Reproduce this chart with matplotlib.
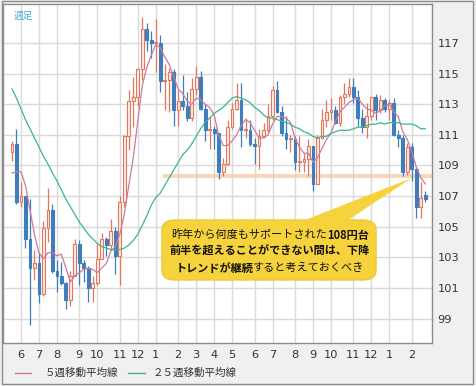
import matplotlib
matplotlib.use("Agg")
import matplotlib.pyplot as plt
from matplotlib.patches import FancyBboxPatch, Polygon, Rectangle
import numpy as np
import pandas as pd

plt.rcParams['font.family'] = ['Noto Sans CJK JP', 'DejaVu Sans']

# ---------------- data (weekly USD/JPY) ----------------
week_start = "2016-05-23"
opens  = [109.9,110.4,106.6,107.0,104.2,102.3,102.6,100.6,104.9,106.1,102.1,101.8,101.3,100.2,101.8,103.9,102.6,102.3,101.0,101.3,
          102.9,104.2,103.8,104.7,103.1,106.6,110.9,113.2,113.5,115.3,117.9,117.2,117.0,117.0,114.5,114.6,115.1,112.6,113.2,112.9,
          112.1,114.0,114.8,112.7,111.3,111.4,111.1,108.6,109.1,111.5,112.7,113.3,111.3,111.3,110.4,110.3,110.9,111.3,112.2,113.9,
          112.5,111.1,110.7,110.7,109.2,109.2,109.4,110.3,107.8,110.8,112.0,112.5,112.6,111.8,113.5,113.7,114.1,113.5,112.1,111.5,
          112.2,113.5,112.6,113.3,112.7,113.1,111.0,110.8,108.6,110.2,108.8,106.3,107.1]
highs  = [110.6,111.4,107.9,107.0,106.8,103.5,103.3,105.4,107.5,106.5,102.8,102.7,101.4,102.1,104.2,104.1,102.8,102.4,101.8,103.9,
          104.6,104.3,105.5,105.0,107.0,111.0,113.9,114.8,115.4,118.7,118.3,117.8,118.6,117.5,115.6,115.4,115.3,113.9,114.9,113.8,
          114.7,115.5,115.2,113.0,112.2,111.6,111.1,109.5,112.0,113.1,114.4,114.4,112.1,112.0,110.8,111.4,111.8,113.0,114.2,114.5,
          112.9,112.2,111.0,110.9,110.9,109.8,110.7,110.3,111.0,112.7,113.3,113.4,112.9,113.6,114.4,114.7,114.7,113.9,112.7,113.1,
          113.5,113.7,113.6,113.4,113.3,113.4,111.3,111.0,110.5,110.5,108.9,107.9,107.3]
lows   = [109.3,106.5,106.3,103.6,98.6,101.5,100.0,100.5,104.0,102.0,100.7,101.2,99.6,99.8,101.8,101.2,101.4,100.1,100.1,101.2,
          103.0,103.1,103.5,101.9,101.2,106.3,110.0,111.5,112.9,114.6,116.5,116.0,115.1,113.8,112.6,112.5,111.6,111.6,112.6,111.9,
          111.9,113.6,112.6,110.6,110.1,110.1,108.1,108.3,109.0,111.4,112.6,110.2,110.8,110.3,109.1,108.8,110.8,111.2,112.0,112.4,
          110.9,110.1,109.9,108.7,108.6,108.6,108.3,107.3,107.8,110.7,111.5,112.0,111.7,111.6,113.0,113.5,113.1,111.6,111.1,110.8,
          112.0,112.0,112.4,112.5,112.0,110.9,110.2,108.3,108.4,108.0,105.6,105.6,106.6]
closes = [110.4,106.6,107.0,104.2,102.3,102.6,100.6,104.9,106.1,102.1,101.8,101.3,100.2,101.8,103.9,102.6,102.3,101.0,101.3,102.9,
          104.2,103.8,104.7,103.1,106.6,110.9,113.2,113.5,115.3,117.9,117.2,117.0,117.0,114.5,114.6,115.1,112.6,113.2,112.9,112.1,
          114.0,114.8,112.7,111.3,111.4,111.1,108.6,109.1,111.5,112.7,113.3,111.3,111.3,110.4,110.3,110.9,111.3,112.2,113.9,112.5,
          111.1,110.7,110.7,109.2,109.2,109.4,110.3,107.8,110.8,112.0,112.5,112.6,111.8,113.5,113.7,114.1,113.5,112.1,111.5,112.2,
          113.5,112.6,113.3,112.7,113.1,111.0,110.8,108.6,110.2,108.8,106.3,106.9,106.8]
ma5    = [108.5,108.6,108.6,107.7,106.1,104.5,103.3,102.9,103.3,103.3,103.1,103.2,102.3,101.4,101.8,102.0,102.2,102.3,102.2,102.0,
          102.3,102.6,103.4,103.7,104.5,105.8,107.7,109.5,111.9,114.2,115.4,116.2,116.9,116.7,116.1,115.6,114.8,114.0,113.7,113.2,
          113.0,113.4,113.3,113.0,112.8,112.3,111.0,110.3,110.3,110.6,111.0,111.6,112.0,111.8,111.3,110.8,110.8,111.0,111.7,112.2,
          112.2,112.1,111.8,110.8,110.2,109.8,109.8,109.2,109.5,110.1,110.7,111.1,111.9,112.5,112.8,113.1,113.3,113.4,113.0,112.7,
          112.6,112.4,112.6,112.9,113.0,112.5,112.2,111.2,110.7,109.9,108.9,108.2,107.8]
ma25   = [114.0,113.4,112.7,112.0,111.4,110.8,110.2,109.6,109.1,108.5,108.0,107.4,106.8,106.3,105.8,105.3,104.9,104.5,104.2,103.9,
          103.7,103.6,103.5,103.5,103.5,103.6,103.8,104.1,104.5,105.1,105.7,106.4,106.9,107.2,107.7,108.2,108.7,109.2,109.7,110.0,
          110.4,110.9,111.4,111.8,112.1,112.4,112.6,112.8,113.1,113.4,113.5,113.4,113.3,113.1,112.8,112.6,112.3,112.1,112.1,112.0,
          111.9,111.8,111.7,111.5,111.4,111.2,111.1,110.9,110.8,110.9,110.9,111.1,111.2,111.3,111.3,111.3,111.4,111.5,111.5,111.6,
          111.7,111.7,111.8,111.7,111.8,111.8,111.8,111.7,111.7,111.7,111.6,111.4,111.4]
support_level = 108.3
y_ticks = [99, 101, 103, 105, 107, 109, 111, 113, 115, 117]
legend_labels = ["５週移動平均線", "２５週移動平均線"]
timeframe_label = "週足"
callout_lines = [
    [("昨年から何度もサポートされた", "normal"), ("108円台", "bold")],
    [("前半を超えることができない間は、下降", "bold")],
    [("トレンドが継続", "bold"), ("すると考えておくべき", "normal")],
]

# ---------------- styles ----------------
UP_EDGE = "#E2775C"
UP_FACE = "#FCEDE8"
DN_COL = "#3F7EBD"
MA5_COL = "#CC7A9C"
MA25_COL = "#3DB68C"
GRID_COL = "#DADADA"
BG = "#F0F0F0"

W, H = 477, 386
fig = plt.figure(figsize=(W / 100, H / 100), dpi=100, facecolor=BG)

# outer frame
fig.patches.append(Rectangle((1.5 / W, 2.5 / H), (473.5 - 1.5) / W, (385 - 2.5) / H,
                             transform=fig.transFigure, fill=False, edgecolor="#8C8C8C", lw=1.0))

L, R, T, B = 3, 432, 4, 343
ax = fig.add_axes([L / W, 1 - B / H, (R - L) / W, (B - T) / H])
ax.set_facecolor("white")

dates = pd.date_range(week_start, periods=len(closes), freq="7D")
x = np.arange(len(closes))

# month ticks: first week of each month
months = dates.month
tick_pos = [i for i in range(1, len(dates)) if months[i] != months[i - 1]]
tick_lab = [str(months[i]) for i in tick_pos]

ax.set_xlim(-2.0, 93.5)
ax.set_ylim(97.4, 119.55)
ax.set_xticks(tick_pos)
ax.set_xticklabels(tick_lab)
ax.set_yticks(y_ticks)
ax.set_yticklabels([str(v) for v in y_ticks])
ax.yaxis.tick_right()
ax.grid(True, color=GRID_COL, lw=1.0)
ax.set_axisbelow(True)
ax.tick_params(axis="both", length=0, labelsize=8.2, colors="#333333")
ax.tick_params(axis="x", pad=5)
ax.tick_params(axis="y", pad=4)
for lab in ax.get_xticklabels() + ax.get_yticklabels():
    lab.set_family("DejaVu Sans")
for s in ax.spines.values():
    s.set_color("#8C8C8C")
    s.set_linewidth(1.0)

# support band
ax.axhspan(support_level - 0.15, support_level + 0.15, xmin=(33.6 + 2.0) / 95.5, xmax=1.0,
           color="#F9C9A6", alpha=0.75, lw=0, zorder=1.5)

# candles
bw = 0.62
for i in x:
    o, h, l, c = opens[i], highs[i], lows[i], closes[i]
    up = c >= o
    col = UP_EDGE if up else DN_COL
    ax.vlines(i, l, h, color=col, lw=0.9, zorder=3)
    bot = min(o, c)
    ht = max(abs(c - o), 0.08)
    ax.add_patch(Rectangle((i - bw / 2, bot), bw, ht,
                           facecolor=UP_FACE if up else DN_COL,
                           edgecolor=col, lw=0.8, zorder=4))

ax.plot(x, ma5, color=MA5_COL, lw=0.9, zorder=5)
ax.plot(x, ma25, color=MA25_COL, lw=0.9, zorder=5)

# timeframe label
ax.text(11 / (R - L), 1 - 7 / (B - T), timeframe_label, transform=ax.transAxes,
        fontsize=7, color="#45AEE0", ha="left", va="top")

# callout
def fx(px):
    return (px - L) / (R - L)

def fy(py):
    return (B - py) / (B - T)

box = FancyBboxPatch((fx(167), fy(276)), fx(371) - fx(167), fy(224) - fy(276),
                     boxstyle="round,pad=0.012,rounding_size=0.03",
                     transform=ax.transAxes, facecolor="#F6D33C", edgecolor="#EBC52E",
                     lw=0.8, zorder=8, clip_on=False)
ax.add_patch(box)
tail = Polygon([(fx(300), fy(222)), (fx(345), fy(222)), (fx(412), fy(178))],
               closed=True, transform=ax.transAxes, facecolor="#F6D33C",
               edgecolor="none", zorder=8, clip_on=False)
ax.add_patch(tail)

fig.canvas.draw()
renderer = fig.canvas.get_renderer()
line_y = [235, 251.5, 268]
cx = 270
for pieces, py in zip(callout_lines, line_y):
    texts = []
    widths = []
    for s, wgt in pieces:
        t = ax.text(0, fy(py), s, transform=ax.transAxes, fontsize=8.0, fontweight=wgt,
                    color="#111111", ha="left", va="center", zorder=9)
        bb = t.get_window_extent(renderer=renderer)
        texts.append(t)
        widths.append(bb.width)
    total = sum(widths)
    start = cx - total / 2
    for t, wdt in zip(texts, widths):
        t.set_x(fx(start))
        start += wdt

# legend (drawn in figure coordinates)
def fgx(px):
    return px / W

def fgy(py):
    return 1 - py / H

fig.lines.append(plt.Line2D([fgx(15), fgx(31)], [fgy(373), fgy(373)], color=MA5_COL, lw=1.0,
                            transform=fig.transFigure))
fig.text(fgx(45), fgy(373), legend_labels[0], fontsize=7.6, color="#333333", ha="left", va="center")
fig.lines.append(plt.Line2D([fgx(128), fgx(145)], [fgy(373), fgy(373)], color=MA25_COL, lw=1.0,
                            transform=fig.transFigure))
fig.text(fgx(153), fgy(373), legend_labels[1], fontsize=7.6, color="#333333", ha="left", va="center")

fig.savefig("out.png", dpi=100, facecolor=BG)
